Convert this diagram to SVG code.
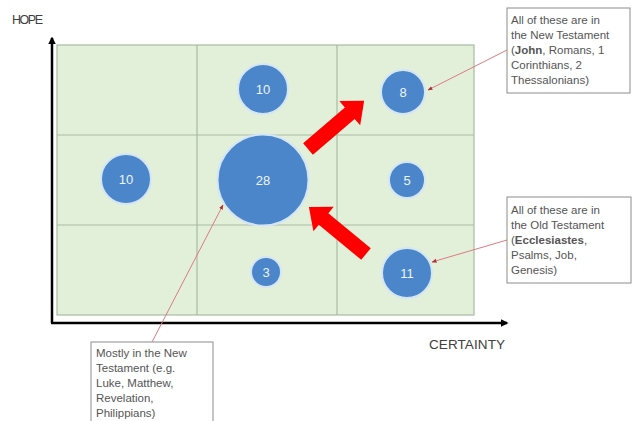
<svg xmlns="http://www.w3.org/2000/svg" width="636" height="421" viewBox="0 0 636 421">
<style>
.grid{fill:#e2efd9;stroke:#a7bba3;stroke-width:1.2}
.gl{stroke:#a7bba3;stroke-width:1.2;fill:none}
.bub{fill:#4a86c9;stroke:#d4e6f6;stroke-width:2}
.bt{font-family:"Liberation Sans",Arial,sans-serif;font-size:13px;fill:#eef4fb;text-anchor:middle}
.ax{stroke:#000;stroke-width:2.5;fill:none}
.al{font-family:"Liberation Sans",Arial,sans-serif;fill:#404040}
.box{fill:#fff;stroke:#8c8c8c;stroke-width:1}
.ct{font-family:"Liberation Sans",Arial,sans-serif;font-size:11.5px;fill:#555}
.lead{stroke:#dc7b80;stroke-width:1;fill:none}
.red{fill:#ff0000}
</style>
<defs>
<marker id="ah" viewBox="0 0 10 10" refX="9" refY="5" markerWidth="5" markerHeight="5" orient="auto">
<path d="M0,1 L10,5 L0,9 z" fill="#b0303a"/>
</marker>
<marker id="axh" viewBox="0 0 10 10" refX="8" refY="5" markerWidth="3" markerHeight="3" orient="auto">
<path d="M0,0 L10,5 L0,10 z" fill="#000"/>
</marker>
</defs>
<g id="grid">
<rect class="grid" x="57" y="45" width="417" height="270"/>
<path class="gl" d="M197,45 V315 M337,45 V315 M57,135 H474 M57,225 H474"/>
</g>
<g id="axes">
<line class="ax" x1="52" y1="323" x2="52" y2="38" marker-end="url(#axh)"/>
<line class="ax" x1="51" y1="323" x2="507" y2="323" marker-end="url(#axh)"/>
<text class="al" x="12" y="24" style="font-size:12.5px" textLength="31">HOPE</text>
<text class="al" x="429" y="349" style="font-size:13.5px" textLength="76">CERTAINTY</text>
</g>
<g id="bubble-top-mid"><circle class="bub" cx="263" cy="89" r="25"/><text class="bt" x="263" y="93.5">10</text></g>
<g id="bubble-mid-left"><circle class="bub" cx="126" cy="179" r="25"/><text class="bt" x="126" y="183.5">10</text></g>
<g id="bubble-center"><circle class="bub" cx="263" cy="180" r="45.5"/><text class="bt" x="263" y="184.5">28</text></g>
<g id="bubble-top-right"><circle class="bub" cx="403" cy="92" r="22"/><text class="bt" x="403" y="96.5">8</text></g>
<g id="bubble-mid-right"><circle class="bub" cx="407" cy="180" r="18"/><text class="bt" x="407" y="184.5">5</text></g>
<g id="bubble-bot-right"><circle class="bub" cx="407" cy="273" r="25"/><text class="bt" x="407" y="277.5">11</text></g>
<g id="bubble-bot-mid"><circle class="bub" cx="266" cy="272" r="15"/><text class="bt" x="266" y="276.5">3</text></g>
<g id="red-arrows">
<polygon class="red" transform="translate(308,149) rotate(-40.6)" points="0,-7.5 55,-7.5 55,-16 74,0 55,16 55,7.5 0,7.5"/>
<polygon class="red" transform="translate(366,254) rotate(-140.5)" points="0,-7.5 55,-7.5 55,-16 74,0 55,16 55,7.5 0,7.5"/>
</g>
<g id="connectors">
<line class="lead" x1="507" y1="50" x2="428" y2="90" marker-end="url(#ah)"/>
<line class="lead" x1="507" y1="240" x2="432" y2="262" marker-end="url(#ah)"/>
<line class="lead" x1="152" y1="342" x2="223" y2="205" marker-end="url(#ah)"/>
</g>
<g id="callout-nt">
<rect class="box" x="507" y="8" width="123" height="85"/>
<text class="ct" x="511" y="24">All of these are in</text>
<text class="ct" x="511" y="39">the New Testament</text>
<text class="ct" x="511" y="54">(<tspan font-weight="bold">John</tspan>, Romans, 1</text>
<text class="ct" x="511" y="69">Corinthians, 2</text>
<text class="ct" x="511" y="84">Thessalonians)</text>
</g>
<g id="callout-ot">
<rect class="box" x="507" y="197" width="124" height="86"/>
<text class="ct" x="511" y="214">All of these are in</text>
<text class="ct" x="511" y="229">the Old Testament</text>
<text class="ct" x="511" y="244">(<tspan font-weight="bold">Ecclesiastes</tspan>,</text>
<text class="ct" x="511" y="259">Psalms, Job,</text>
<text class="ct" x="511" y="274">Genesis)</text>
</g>
<g id="callout-mostly">
<rect class="box" x="91" y="342" width="122" height="90"/>
<text class="ct" x="96" y="357">Mostly in the New</text>
<text class="ct" x="96" y="372">Testament (e.g.</text>
<text class="ct" x="96" y="387">Luke, Matthew,</text>
<text class="ct" x="96" y="402">Revelation,</text>
<text class="ct" x="96" y="417">Philippians)</text>
</g>
</svg>
